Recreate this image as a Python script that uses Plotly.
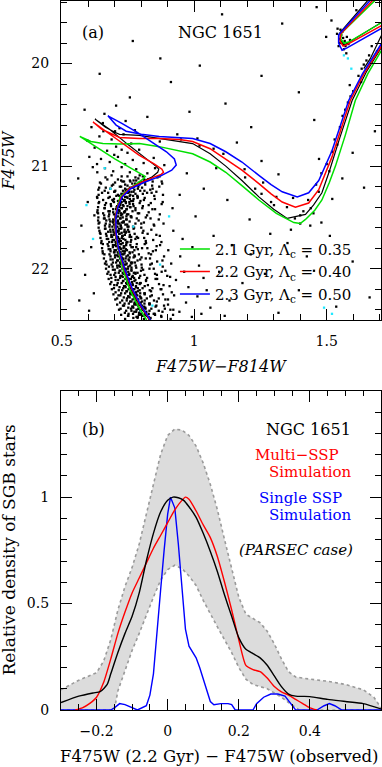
import plotly.graph_objects as go

# ---------------- Panel (a): CMD data ----------------
ms_stars = [
(0.665,21.11),(0.712,21.13),(0.748,21.10),(0.771,21.14),(0.789,21.12),(0.806,21.10),(0.826,21.13),(0.861,21.11),(0.735,21.15),(0.688,21.09),
(0.648,21.17),(0.701,21.16),(0.739,21.18),(0.759,21.15),(0.777,21.17),(0.794,21.16),(0.815,21.18),(0.843,21.15),(0.879,21.17),(0.689,21.19),(0.724,21.14),
(0.641,21.21),(0.683,21.22),(0.719,21.20),(0.746,21.23),(0.757,21.21),(0.772,21.20),(0.787,21.22),(0.803,21.21),(0.834,21.23),(0.868,21.20),(0.731,21.24),(0.662,21.24),
(0.652,21.26),(0.698,21.25),(0.725,21.27),(0.741,21.24),(0.751,21.26),(0.763,21.25),(0.778,21.27),(0.796,21.24),(0.822,21.26),(0.857,21.25),(0.712,21.28),(0.769,21.29),(0.736,21.27),
(0.633,21.30),(0.676,21.31),(0.706,21.29),(0.727,21.32),(0.739,21.30),(0.748,21.31),(0.756,21.29),(0.771,21.32),(0.787,21.30),(0.813,21.31),(0.849,21.29),(0.737,21.33),(0.691,21.33),(0.762,21.34),
(0.641,21.35),(0.667,21.36),(0.694,21.34),(0.714,21.37),(0.726,21.35),(0.735,21.34),(0.742,21.36),(0.755,21.35),(0.769,21.37),(0.797,21.34),(0.836,21.36),(0.881,21.35),(0.721,21.38),(0.748,21.39),
(0.637,21.40),(0.661,21.41),(0.686,21.39),(0.705,21.42),(0.717,21.40),(0.725,21.41),(0.733,21.39),(0.744,21.42),(0.758,21.40),(0.778,21.41),(0.806,21.39),(0.852,21.42),(0.711,21.43),(0.739,21.44),(0.676,21.44),
(0.634,21.45),(0.656,21.46),(0.679,21.44),(0.697,21.47),(0.709,21.45),(0.718,21.44),(0.724,21.46),(0.736,21.45),(0.751,21.47),(0.767,21.44),(0.792,21.46),(0.828,21.45),(0.703,21.48),(0.744,21.49),(0.728,21.47),
(0.638,21.50),(0.659,21.51),(0.677,21.49),(0.694,21.52),(0.705,21.50),(0.713,21.49),(0.720,21.51),(0.730,21.50),(0.743,21.52),(0.760,21.49),(0.783,21.51),(0.817,21.50),(0.866,21.52),(0.699,21.53),(0.734,21.54),(0.668,21.53),
(0.642,21.55),(0.666,21.56),(0.683,21.54),(0.697,21.57),(0.706,21.55),(0.712,21.54),(0.718,21.56),(0.727,21.55),(0.740,21.57),(0.756,21.54),(0.778,21.56),(0.810,21.55),(0.847,21.57),(0.722,21.58),(0.691,21.59),(0.748,21.59),
(0.639,21.60),(0.663,21.61),(0.680,21.59),(0.694,21.62),(0.703,21.60),(0.710,21.59),(0.716,21.61),(0.725,21.60),(0.737,21.62),(0.752,21.59),(0.771,21.61),(0.800,21.60),(0.838,21.62),(0.708,21.63),(0.744,21.64),(0.675,21.64),
(0.644,21.65),(0.667,21.66),(0.684,21.64),(0.696,21.67),(0.705,21.65),(0.711,21.64),(0.717,21.66),(0.726,21.65),(0.738,21.67),(0.754,21.64),(0.775,21.66),(0.805,21.65),(0.857,21.67),(0.730,21.68),(0.690,21.69),(0.762,21.69),
(0.646,21.70),(0.670,21.71),(0.687,21.69),(0.698,21.72),(0.706,21.70),(0.712,21.69),(0.718,21.71),(0.727,21.70),(0.740,21.72),(0.756,21.69),(0.778,21.71),(0.811,21.70),(0.845,21.72),(0.715,21.73),(0.748,21.74),(0.679,21.74),
(0.649,21.75),(0.673,21.76),(0.690,21.74),(0.701,21.77),(0.709,21.75),(0.715,21.74),(0.721,21.76),(0.730,21.75),(0.743,21.77),(0.760,21.74),(0.783,21.76),(0.818,21.75),(0.871,21.77),(0.705,21.78),(0.736,21.79),(0.768,21.79),
(0.652,21.80),(0.677,21.81),(0.693,21.79),(0.704,21.82),(0.712,21.80),(0.718,21.79),(0.724,21.81),(0.733,21.80),(0.746,21.82),(0.763,21.79),(0.787,21.81),(0.823,21.80),(0.855,21.82),(0.738,21.83),(0.699,21.84),(0.684,21.83),
(0.655,21.85),(0.680,21.86),(0.697,21.84),(0.708,21.87),(0.716,21.85),(0.722,21.84),(0.728,21.86),(0.737,21.85),(0.750,21.87),(0.767,21.84),(0.791,21.86),(0.828,21.85),(0.713,21.88),(0.756,21.89),(0.776,21.88),
(0.659,21.90),(0.684,21.91),(0.701,21.89),(0.712,21.92),(0.720,21.90),(0.726,21.89),(0.732,21.91),(0.741,21.90),(0.754,21.92),(0.771,21.89),(0.796,21.91),(0.833,21.90),(0.880,21.92),(0.727,21.93),(0.693,21.94),(0.761,21.94),
(0.663,21.95),(0.688,21.96),(0.705,21.94),(0.716,21.97),(0.724,21.95),(0.730,21.94),(0.736,21.96),(0.745,21.95),(0.758,21.97),(0.776,21.94),(0.801,21.96),(0.840,21.95),(0.720,21.98),(0.763,21.99),(0.678,21.98),
(0.667,22.00),(0.693,22.01),(0.710,21.99),(0.721,22.02),(0.729,22.00),(0.735,21.99),(0.741,22.01),(0.750,22.00),(0.763,22.02),(0.781,21.99),(0.807,22.01),(0.847,22.00),(0.891,22.02),(0.740,22.03),(0.702,22.04),(0.772,22.04),
(0.672,22.05),(0.698,22.06),(0.715,22.04),(0.726,22.07),(0.734,22.05),(0.740,22.04),(0.746,22.06),(0.755,22.05),(0.768,22.07),(0.786,22.04),(0.812,22.06),(0.852,22.05),(0.730,22.08),(0.773,22.09),(0.687,22.09),
(0.677,22.10),(0.703,22.11),(0.720,22.09),(0.732,22.12),(0.740,22.10),(0.746,22.09),(0.752,22.11),(0.761,22.10),(0.774,22.12),(0.792,22.09),(0.818,22.11),(0.860,22.10),(0.747,22.13),(0.711,22.14),(0.783,22.14),
(0.683,22.15),(0.708,22.16),(0.726,22.14),(0.738,22.17),(0.746,22.15),(0.752,22.14),(0.758,22.16),(0.767,22.15),(0.780,22.17),(0.798,22.14),(0.825,22.16),(0.867,22.15),(0.907,22.17),(0.741,22.18),(0.787,22.19),(0.697,22.19),
(0.689,22.20),(0.715,22.21),(0.732,22.19),(0.744,22.22),(0.752,22.20),(0.758,22.19),(0.765,22.21),(0.774,22.20),(0.787,22.22),(0.805,22.19),(0.832,22.21),(0.873,22.20),(0.760,22.23),(0.724,22.24),(0.796,22.24),
(0.695,22.25),(0.721,22.26),(0.739,22.24),(0.751,22.27),(0.759,22.25),(0.766,22.24),(0.772,22.26),(0.781,22.25),(0.795,22.27),(0.813,22.24),(0.840,22.26),(0.882,22.25),(0.756,22.28),(0.800,22.29),(0.709,22.29),
(0.702,22.30),(0.728,22.31),(0.746,22.29),(0.758,22.32),(0.767,22.30),(0.773,22.29),(0.780,22.31),(0.789,22.30),(0.803,22.32),(0.821,22.29),(0.848,22.31),(0.891,22.30),(0.775,22.33),(0.737,22.34),(0.812,22.34),
(0.709,22.35),(0.735,22.36),(0.753,22.34),(0.766,22.37),(0.774,22.35),(0.781,22.34),(0.788,22.36),(0.797,22.35),(0.811,22.37),(0.830,22.34),(0.857,22.36),(0.901,22.35),(0.770,22.38),(0.816,22.39),(0.722,22.39),
(0.716,22.40),(0.743,22.41),(0.761,22.39),(0.774,22.42),(0.782,22.40),(0.789,22.39),(0.796,22.41),(0.805,22.40),(0.819,22.42),(0.838,22.39),(0.866,22.41),(0.910,22.40),(0.792,22.43),(0.752,22.44),(0.828,22.44),
(0.724,22.45),(0.751,22.46),(0.769,22.44),(0.782,22.47),(0.791,22.45),(0.798,22.44),(0.805,22.46),(0.814,22.45),(0.828,22.47),(0.847,22.44),(0.875,22.46),(0.920,22.45),(0.786,22.48),(0.833,22.49),(0.739,22.49),
]

ms_stars_core = [
(0.672,21.13),(0.726,21.10),(0.757,21.14),(0.778,21.11),(0.794,21.09),(0.811,21.13),(0.837,21.12),(0.869,21.10),
(0.644,21.16),(0.694,21.18),(0.729,21.15),(0.748,21.19),(0.766,21.17),(0.781,21.14),(0.793,21.18),(0.814,21.16),(0.841,21.19),(0.877,21.15),
(0.638,21.23),(0.666,21.21),(0.702,21.24),(0.724,21.20),(0.739,21.22),(0.754,21.25),(0.768,21.21),(0.774,21.23),(0.789,21.20),(0.812,21.24),(0.843,21.22),
(0.639,21.28),(0.675,21.26),(0.699,21.25),(0.717,21.29),(0.731,21.27),(0.745,21.26),(0.759,21.28),(0.771,21.25),(0.785,21.29),(0.806,21.27),(0.839,21.26),(0.882,21.28),
(0.634,21.31),(0.656,21.33),(0.681,21.30),(0.697,21.32),(0.712,21.34),(0.724,21.31),(0.736,21.33),(0.745,21.30),(0.757,21.32),(0.769,21.34),(0.786,21.31),(0.810,21.33),(0.851,21.32),
(0.639,21.36),(0.663,21.38),(0.685,21.37),(0.697,21.35),(0.709,21.39),(0.722,21.36),(0.731,21.38),(0.742,21.35),(0.756,21.37),(0.771,21.39),(0.794,21.36),(0.828,21.38),(0.877,21.37),
(0.635,21.43),(0.662,21.41),(0.681,21.44),(0.694,21.42),(0.707,21.40),(0.716,21.43),(0.727,21.41),(0.738,21.44),(0.745,21.42),(0.759,21.40),(0.778,21.43),(0.804,21.41),(0.842,21.42),
(0.637,21.46),(0.660,21.48),(0.679,21.47),(0.694,21.45),(0.705,21.49),(0.714,21.46),(0.724,21.48),(0.735,21.45),(0.746,21.47),(0.762,21.49),(0.787,21.46),(0.822,21.48),(0.870,21.47),
(0.637,21.53),(0.662,21.51),(0.680,21.52),(0.692,21.54),(0.703,21.50),(0.712,21.53),(0.722,21.51),(0.733,21.54),(0.745,21.52),(0.763,21.50),(0.790,21.53),(0.835,21.51),
(0.639,21.56),(0.663,21.58),(0.681,21.57),(0.694,21.55),(0.703,21.59),(0.713,21.56),(0.723,21.58),(0.733,21.55),(0.747,21.57),(0.769,21.59),(0.800,21.56),(0.849,21.58),
(0.642,21.63),(0.665,21.61),(0.683,21.62),(0.695,21.64),(0.705,21.60),(0.715,21.63),(0.724,21.61),(0.736,21.64),(0.750,21.62),(0.773,21.60),(0.808,21.63),
(0.646,21.66),(0.669,21.68),(0.687,21.67),(0.699,21.65),(0.708,21.69),(0.718,21.66),(0.728,21.68),(0.741,21.65),(0.757,21.67),(0.783,21.69),(0.824,21.66),(0.870,21.68),
(0.650,21.73),(0.675,21.71),(0.692,21.72),(0.703,21.74),(0.712,21.70),(0.723,21.73),(0.733,21.71),(0.745,21.74),(0.762,21.72),(0.788,21.70),(0.817,21.73),
(0.655,21.76),(0.676,21.78),(0.693,21.77),(0.705,21.75),(0.714,21.79),(0.724,21.76),(0.734,21.78),(0.744,21.75),(0.759,21.77),(0.781,21.79),(0.813,21.76),(0.858,21.78),
(0.654,21.83),(0.683,21.81),(0.699,21.82),(0.711,21.84),(0.721,21.80),(0.731,21.83),(0.742,21.81),(0.756,21.84),(0.774,21.82),(0.803,21.80),(0.844,21.83),
(0.661,21.86),(0.684,21.88),(0.701,21.87),(0.714,21.85),(0.723,21.89),(0.733,21.86),(0.744,21.88),(0.757,21.85),(0.774,21.87),(0.801,21.89),(0.837,21.86),(0.886,21.88),
(0.667,21.93),(0.692,21.91),(0.709,21.92),(0.720,21.94),(0.730,21.90),(0.740,21.93),(0.752,21.91),(0.766,21.94),(0.786,21.92),(0.817,21.90),(0.860,21.93),
(0.669,21.96),(0.692,21.98),(0.709,21.97),(0.722,21.95),(0.732,21.99),(0.741,21.96),(0.751,21.98),(0.763,21.95),(0.779,21.97),(0.802,21.99),(0.834,21.96),(0.881,21.98),
(0.676,22.03),(0.700,22.01),(0.718,22.02),(0.730,22.04),(0.741,22.00),(0.751,22.03),(0.763,22.01),(0.778,22.04),(0.799,22.02),(0.831,22.00),(0.877,22.03),
(0.684,22.06),(0.703,22.08),(0.721,22.07),(0.734,22.05),(0.744,22.09),(0.754,22.06),(0.765,22.08),(0.778,22.05),(0.796,22.07),(0.822,22.09),(0.859,22.06),(0.909,22.08),
(0.687,22.13),(0.713,22.11),(0.731,22.12),(0.743,22.14),(0.754,22.10),(0.765,22.13),(0.778,22.11),(0.795,22.14),(0.818,22.12),(0.854,22.10),
(0.698,22.16),(0.718,22.18),(0.735,22.17),(0.748,22.15),(0.758,22.19),(0.768,22.16),(0.780,22.18),(0.794,22.15),(0.813,22.17),(0.842,22.19),(0.884,22.16),
(0.703,22.23),(0.728,22.21),(0.746,22.22),(0.758,22.24),(0.769,22.20),(0.780,22.23),(0.794,22.21),(0.812,22.24),(0.837,22.22),(0.876,22.20),(0.915,22.23),
(0.714,22.26),(0.734,22.28),(0.751,22.27),(0.764,22.25),(0.774,22.29),(0.785,22.26),(0.798,22.28),(0.813,22.25),(0.834,22.27),(0.866,22.29),
(0.720,22.33),(0.745,22.31),(0.763,22.32),(0.775,22.34),(0.786,22.30),(0.798,22.33),(0.813,22.31),(0.832,22.34),(0.859,22.32),(0.901,22.30),
(0.731,22.36),(0.751,22.38),(0.768,22.37),(0.781,22.35),(0.791,22.39),(0.802,22.36),(0.815,22.38),(0.831,22.35),(0.854,22.37),(0.889,22.39),
(0.738,22.43),(0.763,22.41),(0.781,22.42),(0.793,22.44),(0.804,22.40),(0.816,22.43),(0.831,22.41),(0.851,22.44),(0.880,22.42),(0.921,22.40),
(0.750,22.46),(0.770,22.48),(0.787,22.47),(0.800,22.45),(0.810,22.49),(0.821,22.46),(0.835,22.48),(0.852,22.45),(0.876,22.47),(0.911,22.49),
]

turnoff_stars = [
(0.612,20.62),(0.655,20.58),(0.701,20.66),(0.642,20.71),(0.688,20.74),(0.733,20.69),(0.762,20.78),(0.624,20.82),
(0.671,20.85),(0.705,20.81),(0.748,20.87),(0.792,20.84),(0.648,20.93),(0.681,20.96),(0.712,20.91),(0.739,20.98),
(0.768,20.94),(0.809,20.97),(0.847,20.92),(0.663,21.02),(0.694,21.05),(0.726,21.01),(0.757,21.06),(0.781,21.03),
(0.823,21.07),(0.852,21.02),(0.634,21.06),(0.887,20.99),(0.718,20.63),(0.596,20.75),(0.741,20.56),(0.776,20.65),
(0.633,20.98),(0.698,20.89),(0.726,20.84),(0.657,20.66),
]

field_stars = [
(0.768,19.78),(0.643,20.10),(0.912,20.18),(1.105,19.52),(1.332,19.61),(1.462,19.45),(1.518,19.58),(1.541,19.66),
(1.498,19.74),(1.612,19.48),(0.872,19.95),(1.021,20.02),(1.254,20.12),(1.395,20.28),(0.586,20.45),(0.705,20.41),
(0.757,20.33),(1.118,20.39),(1.453,20.55),(1.587,20.21),(1.632,20.05),(0.982,20.47),(1.215,20.62),(0.661,20.49),
(0.823,20.52),(0.936,20.69),(1.012,20.73),(1.073,20.83),(1.161,20.77),(1.254,20.95),(1.318,21.08),(1.192,21.11),
(1.083,21.02),(0.972,21.07),(1.373,21.31),(1.412,21.44),(1.438,21.58),(1.365,21.62),(1.301,21.38),(1.254,21.27),
(1.480,21.55),(1.521,21.32),(1.559,21.12),(1.598,20.87),(1.641,21.21),(1.682,20.66),(1.471,20.93),(1.125,21.33),
(1.036,21.22),(0.945,21.28),(0.918,21.41),(1.005,21.49),(1.209,21.52),(1.352,21.75),(1.512,21.68),(0.884,21.56),
(0.921,21.63),(0.956,21.71),(0.902,21.82),(0.947,21.88),(0.993,21.79),(0.913,21.95),(0.962,22.03),(1.018,21.97),
(0.931,22.11),(0.978,22.18),(1.035,22.09),(0.924,22.26),(0.969,22.33),(1.012,22.27),(1.061,22.38),(0.944,22.42),
(0.991,22.47),(1.047,22.21),(1.094,22.03),(1.133,22.31),(1.182,22.14),(1.213,21.86),(1.267,22.05),(1.318,22.43),
(1.395,22.21),(1.452,22.02),(1.536,22.37),(1.598,21.93),(1.662,22.28),(1.073,21.68),(1.142,21.77),(0.886,22.36),
(0.898,22.07),(0.876,21.74),(1.027,22.44),(1.115,22.46),(1.425,21.88),(1.287,21.66),(0.562,21.12),(0.598,21.35),
(0.574,21.58),(0.611,21.79),(0.588,22.06),(0.621,22.24),(0.603,22.41),(0.623,21.48),(0.617,21.01),(0.566,22.31),
(0.581,21.83),(0.604,20.91),(1.02,20.80),(1.11,20.88),(1.19,21.03),(1.26,21.16),(1.31,21.30),(1.35,21.40),
(0.87,20.76),(0.95,20.74),(1.23,21.22),(1.29,21.35),(1.38,21.51),(1.45,21.46),(1.40,21.56),
]

giant_stars = [
(1.43,21.33),(1.46,21.18),(1.48,21.07),(1.50,20.98),(1.52,20.86),(1.53,20.74),(1.55,20.62),(1.56,20.51),
(1.58,20.38),(1.60,20.27),(1.62,20.12),(1.64,20.01),(1.66,19.92),(1.67,19.83),(1.47,21.25),(1.51,21.05),
(1.54,20.79),(1.57,20.45),(1.59,20.32),(1.63,20.18),(1.65,19.97),(1.69,19.88),(1.44,21.41),(1.40,21.48),
(1.555,19.72),(1.562,19.75),(1.568,19.78),(1.551,19.80),(1.571,19.83),(1.576,19.74),(1.548,19.76),(1.565,19.86),
(1.582,19.81),(1.559,19.69),(1.574,19.90),(1.545,19.83),(1.588,19.77),(1.563,19.80),(1.539,19.71),(1.552,19.67),
]

cyan_stars = [
(0.662,21.02),(0.593,21.38),(0.618,21.71),(0.871,21.96),(0.905,21.49),(0.842,22.36),(1.565,19.92),(1.593,20.05),
(0.684,21.22),(0.798,22.41),(1.520,22.44),(1.490,22.38),(0.770,21.59),(1.580,19.95),
]

# Isochrones (None = break between branches)
iso_green_color = [0.835,0.818,0.785,0.756,0.730,0.712,0.703,0.702,0.710,0.720,0.745,0.780,0.805,0.815,0.808,0.760,0.700,0.640,0.568,
                   0.610,0.655,0.720,0.793,0.868,0.994,1.060,1.119,1.180,1.244,1.310,1.376,1.400,1.420,1.455,1.482,1.510,1.533,1.570,1.608,1.655,1.700,1.800,
                   None,1.700,1.557,1.553,1.565,1.583,1.695,1.800]
iso_green_mag = [22.60,22.49,22.35,22.20,22.00,21.80,21.65,21.50,21.40,21.30,21.24,21.18,21.13,21.10,21.09,21.02,20.93,20.83,20.71,
                 20.76,20.78,20.785,20.78,20.81,20.88,20.96,21.06,21.19,21.33,21.46,21.55,21.56,21.52,21.43,21.33,21.16,21.00,20.70,20.36,20.10,19.90,19.50,
                 None,19.34,19.70,19.76,19.80,19.79,19.62,19.46]

iso_red_color = [0.850,0.830,0.795,0.765,0.735,0.713,0.703,0.702,0.710,0.725,0.755,0.800,0.845,0.875,0.884,0.878,0.850,0.790,0.720,0.660,0.618,
                 0.650,0.690,0.718,0.793,0.868,0.944,0.994,1.060,1.119,1.180,1.244,1.290,1.332,1.382,1.432,1.470,1.520,1.589,1.640,1.700,1.800,
                 None,1.690,1.553,1.550,1.562,1.580,1.700,1.800]
iso_red_mag = [22.60,22.49,22.35,22.20,22.00,21.80,21.65,21.50,21.40,21.30,21.22,21.16,21.11,21.08,21.06,21.03,20.98,20.89,20.76,20.65,20.57,
               20.64,20.69,20.72,20.73,20.73,20.74,20.76,20.83,20.93,21.04,21.17,21.27,21.35,21.40,21.36,21.23,20.91,20.36,20.10,19.86,19.45,
               None,19.34,19.71,19.78,19.83,19.81,19.64,19.48]

iso_blue_color = [0.852,0.832,0.797,0.767,0.737,0.714,0.705,0.704,0.712,0.728,0.760,0.810,0.870,0.915,0.932,0.925,0.895,0.845,0.785,0.725,0.674,
                  0.705,0.743,0.800,0.868,0.994,1.060,1.119,1.180,1.244,1.290,1.332,1.389,1.432,1.470,1.520,1.583,1.635,1.700,1.800,
                  None,1.680,1.545,1.545,1.558,1.575,1.700,1.800]
iso_blue_mag = [22.60,22.49,22.35,22.20,22.00,21.80,21.65,21.50,21.40,21.30,21.22,21.16,21.10,21.04,20.99,20.93,20.86,20.77,20.67,20.58,20.51,
                20.60,20.66,20.69,20.71,20.73,20.78,20.86,20.96,21.09,21.18,21.25,21.30,21.26,21.14,20.85,20.36,20.10,19.83,19.42,
                None,19.34,19.72,19.80,19.87,19.85,19.67,19.52]

iso_black_color = [0.848,0.828,0.792,0.762,0.733,0.712,0.703,0.702,0.710,0.724,0.752,0.795,0.838,0.862,0.866,0.855,0.810,0.750,0.680,0.625,
                   0.665,0.700,0.718,0.793,0.868,0.994,1.060,1.119,1.180,1.244,1.300,1.351,1.420,1.450,1.482,1.510,1.550,1.596,1.650,1.700,1.800,
                   None,1.670,1.550,1.552,1.565,1.580,1.700,1.800,
                   None,1.640,1.665,1.700,1.750]
iso_black_mag = [22.60,22.49,22.35,22.20,22.00,21.80,21.65,21.50,21.40,21.30,21.22,21.16,21.11,21.06,21.03,21.00,20.91,20.79,20.64,20.54,
                 20.62,20.67,20.69,20.70,20.73,20.78,20.88,21.00,21.14,21.30,21.42,21.51,21.47,21.38,21.26,21.05,20.72,20.36,20.08,19.87,19.45,
                 None,19.34,19.70,19.77,19.82,19.80,19.61,19.45,
                 None,20.05,19.95,19.76,19.50]

legend_labels = ["2.1 Gyr, Λ<sub>c</sub> = 0.35", "2.2 Gyr, Λ<sub>c</sub> = 0.40", "2.3 Gyr, Λ<sub>c</sub> = 0.50"]

# ---------------- Panel (b): SGB density ----------------
band_x = [-0.30,-0.25,-0.20,-0.18,-0.16,-0.15,-0.14,-0.12,-0.10,-0.08,-0.06,-0.04,-0.02,0.00,0.02,0.04,0.06,0.08,0.10,0.12,0.14,
          0.16,0.18,0.20,0.22,0.24,0.26,0.28,0.30,0.32,0.34,0.36,0.37,0.38,0.40,0.45,0.50,0.55,0.58,0.60]
band_upper = [0.095,0.14,0.175,0.23,0.33,0.40,0.47,0.58,0.67,0.78,0.92,1.06,1.20,1.29,1.32,1.315,1.29,1.24,1.16,1.06,0.94,
              0.80,0.66,0.53,0.45,0.43,0.41,0.37,0.31,0.24,0.18,0.155,0.152,0.15,0.145,0.135,0.12,0.095,0.06,0.01]
band_lower = [0.0,0.0,0.0,0.0,0.0,0.0,0.09,0.19,0.28,0.36,0.45,0.53,0.61,0.66,0.68,0.665,0.63,0.585,0.515,0.45,0.39,
              0.33,0.27,0.20,0.145,0.12,0.11,0.10,0.08,0.06,0.035,0.012,0.0,0.0,0.0,0.0,0.0,0.0,0.0,0.0]

obs_x = [-0.30,-0.25,-0.21,-0.19,-0.17,-0.16,-0.14,-0.12,-0.10,-0.08,-0.06,-0.04,-0.02,0.00,0.015,0.03,0.045,0.06,0.08,0.10,0.12,
         0.14,0.16,0.18,0.20,0.22,0.24,0.26,0.28,0.30,0.32,0.34,0.36,0.38,0.40,0.45,0.50,0.55,0.60]
obs_y = [0.035,0.065,0.080,0.086,0.12,0.17,0.27,0.36,0.44,0.55,0.70,0.83,0.93,0.985,1.0,0.997,0.985,0.955,0.905,0.83,0.745,
         0.65,0.54,0.44,0.34,0.285,0.265,0.245,0.21,0.16,0.11,0.075,0.065,0.064,0.063,0.05,0.04,0.03,0.005]

multi_x = [-0.26,-0.24,-0.22,-0.20,-0.18,-0.16,-0.14,-0.12,-0.10,-0.08,-0.06,-0.04,-0.02,0.00,0.02,0.04,0.05,0.06,0.08,0.10,0.12,
           0.14,0.16,0.18,0.20,0.22,0.24,0.26,0.28,0.30,0.32,0.34,0.36,0.38,0.40,0.42]
multi_y = [0.0,0.01,0.03,0.06,0.13,0.24,0.36,0.46,0.55,0.62,0.69,0.76,0.82,0.88,0.94,0.985,1.0,0.99,0.935,0.87,0.81,
           0.72,0.60,0.47,0.33,0.21,0.19,0.18,0.15,0.11,0.085,0.07,0.05,0.03,0.01,0.0]

single_x = [-0.30,-0.16,-0.15,-0.135,-0.12,-0.10,-0.085,-0.06,-0.05,-0.04,-0.03,-0.02,-0.01,0.0,0.008,0.02,0.03,0.04,0.05,0.06,0.07,
            0.08,0.09,0.10,0.11,0.12,0.13,0.15,0.17,0.18,0.19,0.24,0.25,0.27,0.29,0.31,0.33,0.345,0.36,0.42,0.44,0.455,0.47,0.49,0.60]
single_y = [0.0,0.0,0.01,0.03,0.025,0.01,0.0,0.02,0.07,0.17,0.35,0.56,0.75,0.92,1.0,0.95,0.78,0.56,0.38,0.30,0.275,
            0.245,0.20,0.145,0.085,0.04,0.025,0.03,0.03,0.025,0.0,0.0,0.03,0.06,0.075,0.075,0.065,0.035,0.0,0.0,0.02,0.03,0.02,0.0,0.0]

# ---------------- Figure ----------------
FONT = "DejaVu Serif"
fig = go.Figure()

def xs(pts):
    return [p[0] for p in pts]

def ys(pts):
    return [p[1] for p in pts]

for pts, col in [(ms_stars, "black"), (ms_stars_core, "black"), (turnoff_stars, "black"), (field_stars, "black"),
                 (giant_stars, "black"), (cyan_stars, "#22e8ff")]:
    fig.add_trace(go.Scatter(x=xs(pts), y=ys(pts), mode="markers", xaxis="x", yaxis="y",
                             marker=dict(symbol="square", size=2.3, color=col, line=dict(width=0)),
                             showlegend=False, hoverinfo="skip"))

fig.add_trace(go.Scatter(x=iso_black_color, y=iso_black_mag, mode="lines", xaxis="x", yaxis="y",
                         line=dict(color="black", width=1.2), showlegend=False, connectgaps=False))
for lab, col, cx, cy in [(legend_labels[0], "#00e000", iso_green_color, iso_green_mag),
                         (legend_labels[1], "#ff0000", iso_red_color, iso_red_mag),
                         (legend_labels[2], "#0000ff", iso_blue_color, iso_blue_mag)]:
    fig.add_trace(go.Scatter(x=cx, y=cy, mode="lines", xaxis="x", yaxis="y", name=lab,
                             line=dict(color=col, width=1.5), connectgaps=False))

# panel b
fig.add_trace(go.Scatter(x=band_x, y=band_lower, mode="lines", xaxis="x2", yaxis="y2",
                         line=dict(color="#9a9a9a", width=1.6, dash="dot"), showlegend=False))
fig.add_trace(go.Scatter(x=band_x, y=band_upper, mode="lines", xaxis="x2", yaxis="y2", fill="tonexty",
                         fillcolor="#dcdcdc", line=dict(color="#9a9a9a", width=1.6, dash="dot"), showlegend=False))
fig.add_trace(go.Scatter(x=single_x, y=single_y, mode="lines", xaxis="x2", yaxis="y2",
                         line=dict(color="#0000ff", width=1.4), showlegend=False))
fig.add_trace(go.Scatter(x=multi_x, y=multi_y, mode="lines", xaxis="x2", yaxis="y2",
                         line=dict(color="#ff0000", width=1.4, shape="spline", smoothing=0.6), showlegend=False))
fig.add_trace(go.Scatter(x=obs_x, y=obs_y, mode="lines", xaxis="x2", yaxis="y2",
                         line=dict(color="black", width=1.4, shape="spline", smoothing=0.6), showlegend=False))

axis_common = dict(showline=True, linecolor="black", linewidth=1.2, mirror="allticks",
                   ticks="inside", ticklen=11, tickwidth=1.2, tickcolor="black",
                   showgrid=False, zeroline=False, ticklabelstandoff=8,
                   tickfont=dict(family=FONT, size=14, color="black"))

fig.update_layout(
    width=382, height=767,
    margin=dict(l=61, r=1, t=1, b=57),
    paper_bgcolor="white", plot_bgcolor="white",
    xaxis=dict(domain=[0, 1], anchor="y", range=[0.497, 1.705],
               tickvals=[0.5, 1, 1.5], ticktext=["0.5", "1", "1.5"],
               minor=dict(dtick=0.1, tick0=0.5, ticks="inside", ticklen=5.5, tickwidth=1.1, tickcolor="black"),
               **axis_common),
    yaxis=dict(domain=[0.5501, 1], anchor="x", range=[22.5, 19.39],
               tickvals=[20, 21, 22], ticktext=["20", "21", "22"],
               minor=dict(dtick=0.2, tick0=20, ticks="inside", ticklen=5.5, tickwidth=1.1, tickcolor="black"),
               **axis_common),
    xaxis2=dict(domain=[0, 1], anchor="y2", range=[-0.3, 0.6],
                tickvals=[-0.2, 0, 0.2, 0.4], ticktext=["−0.2", "0", "0.2", "0.4"],
                minor=dict(dtick=0.05, tick0=0, ticks="inside", ticklen=5.5, tickwidth=1.1, tickcolor="black"),
                **axis_common),
    yaxis2=dict(domain=[0, 0.4503], anchor="x2", range=[0, 1.5],
                tickvals=[0, 0.5, 1], ticktext=["0", "0.5", "1"],
                minor=dict(dtick=0.1, tick0=0, ticks="inside", ticklen=5.5, tickwidth=1.1, tickcolor="black"),
                **axis_common),
    legend=dict(x=0.356, y=0.673, xanchor="left", yanchor="top", bgcolor="rgba(0,0,0,0)",
                font=dict(family=FONT, size=15, color="black"), tracegroupgap=0, traceorder="normal"),
    showlegend=True,
)

def ann(text, x, y, size=15, color="black", xanchor="center", angle=0):
    fig.add_annotation(text=text, x=x, y=y, xref="paper", yref="paper", showarrow=False,
                       xanchor=xanchor, yanchor="middle", textangle=angle,
                       font=dict(family=FONT, size=size, color=color))

ann("(a)", 0.10, 0.9549, 16)
ann("NGC 1651", 0.497, 0.9549, 16)
ann("<i>F475W−F814W</i>", 0.5, 0.4842, 16)
ann("<i>F475W</i>", -0.164, 0.7757, 16, angle=-90)
ann("(b)", 0.10, 0.3963, 16)
ann("NGC 1651", 0.9125, 0.3963, 16, xanchor="right")
ann("Multi−SSP", 0.874, 0.3597, 15, "#ff0000", "right")
ann("Simulation", 0.9156, 0.3353, 15, "#ff0000", "right")
ann("Single SSP", 0.884, 0.2994, 15, "#0000ff", "right")
ann("Simulation", 0.9156, 0.275, 15, "#0000ff", "right")
ann("<i>(PARSEC case)</i>", 0.919, 0.2257, 15, xanchor="right")
ann("F475W (2.2 Gyr) − F475W (observed)", 0.495, -0.0659, 16.5)
ann("Relative density of SGB stars", -0.164, 0.2257, 17, angle=-90)

fig.write_html("out.html", config={"displayModeBar": False},
               post_script="document.body.style.margin='0px';document.body.style.overflow='hidden';")
